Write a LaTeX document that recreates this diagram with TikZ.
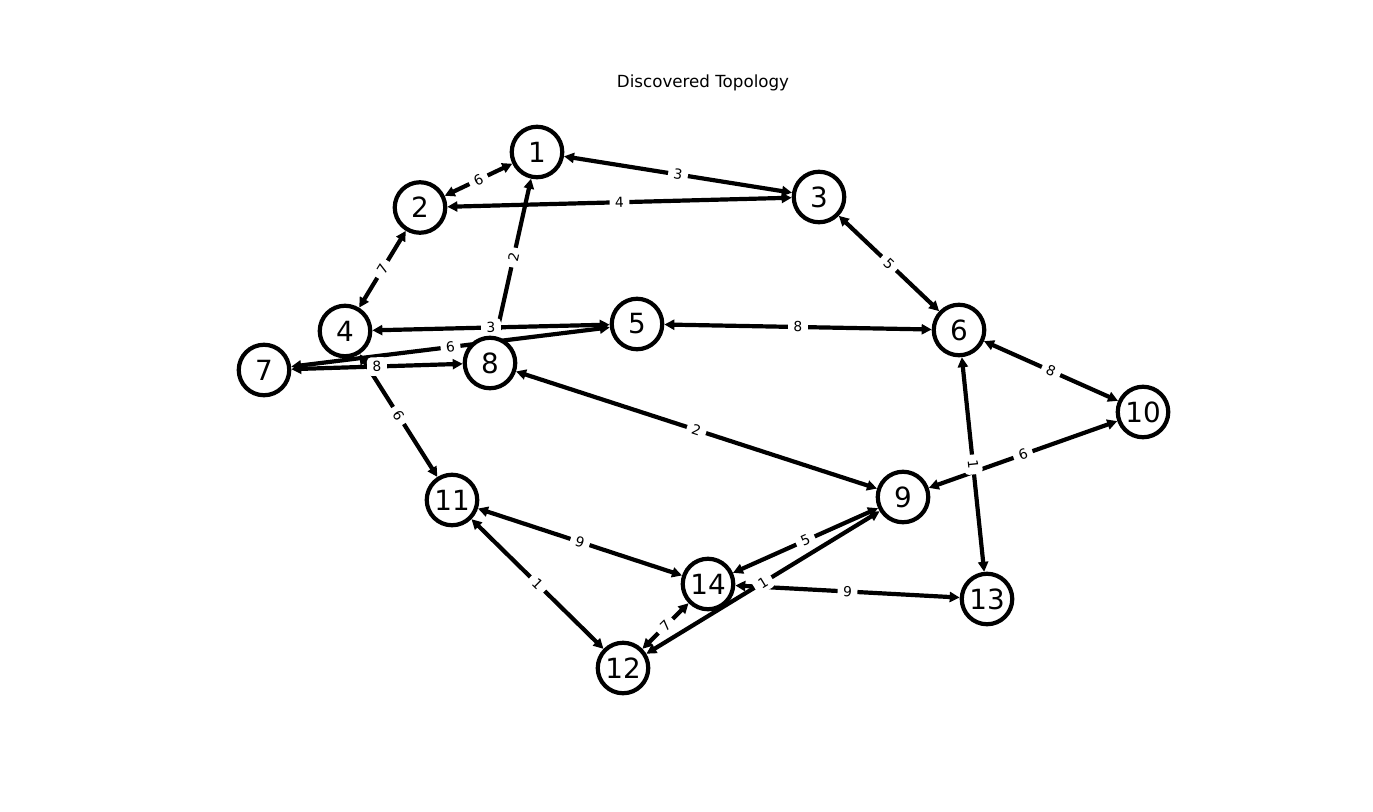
\documentclass[tikz,border=0pt]{standalone}
\usepackage{fontspec}
\setmainfont{DejaVu Sans}
\usetikzlibrary{arrows.meta}
\pgfdeclarelayer{bglayer}
\pgfdeclarelayer{edgelayer}
\pgfdeclarelayer{labellayer}
\pgfsetlayers{bglayer,edgelayer,labellayer,main}
\begin{document}
\begin{tikzpicture}[x=1bp,y=-1bp,
  vertex/.style={circle,draw=black,line width=4.2bp,fill=white,minimum size=50.5bp,inner sep=0pt,font=\fontsize{27.8bp}{30bp}\selectfont},
  link/.style={line width=4.2bp,{Triangle[length=10bp,width=10bp]}-{Triangle[length=10bp,width=10bp]}},
  wlabel/.style={fill=white,rounded corners=4bp,inner xsep=5.5bp,inner ysep=4bp,font=\fontsize{13.9bp}{15bp}\selectfont,sloped,midway},
  titlestyle/.style={font=\fontsize{16.7bp}{18bp}\selectfont}]
\begin{pgfonlayer}{bglayer}
\fill[white] (0,0) rectangle (1373,811);
\end{pgfonlayer}
\useasboundingbox (0,0) rectangle (1373,811);
\node[titlestyle] (title) at (703,83) {Discovered Topology};
\node[vertex] (n1) at (537,152) {1};
\node[vertex] (n2) at (420,207.5) {2};
\node[vertex] (n3) at (819,197) {3};
\node[vertex] (n4) at (345,331) {4};
\node[vertex] (n5) at (637,324) {5};
\node[vertex] (n6) at (959,330) {6};
\node[vertex] (n7) at (264,370) {7};
\node[vertex] (n8) at (490,363) {8};
\node[vertex] (n9) at (903,497) {9};
\node[vertex] (n10) at (1143,412) {10};
\node[vertex] (n11) at (452,500) {11};
\node[vertex] (n12) at (623,668) {12};
\node[vertex] (n13) at (987,599) {13};
\node[vertex] (n14) at (708,584) {14};
\def\edgelist{1/2/6, 1/3/3, 2/3/4, 2/4/7, 1/8/2, 4/5/3, 5/6/8, 3/6/5, 6/10/8, 7/5/6, 7/8/8, 4/11/6, 8/9/2, 9/10/6, 6/13/1, 11/14/9, 11/12/1, 9/14/5, 9/12/1, 14/12/7, 14/13/9}
\begin{pgfonlayer}{edgelayer}
\foreach \a/\b/\w in \edgelist {
  \draw[link] (n\a) -- (n\b);
}
\end{pgfonlayer}
\begin{pgfonlayer}{labellayer}
\foreach \a/\b/\w in \edgelist {
  \path (n\a) -- (n\b) node[wlabel] (l\a-\b) {\w};
}
\end{pgfonlayer}
\end{tikzpicture}
\end{document}
